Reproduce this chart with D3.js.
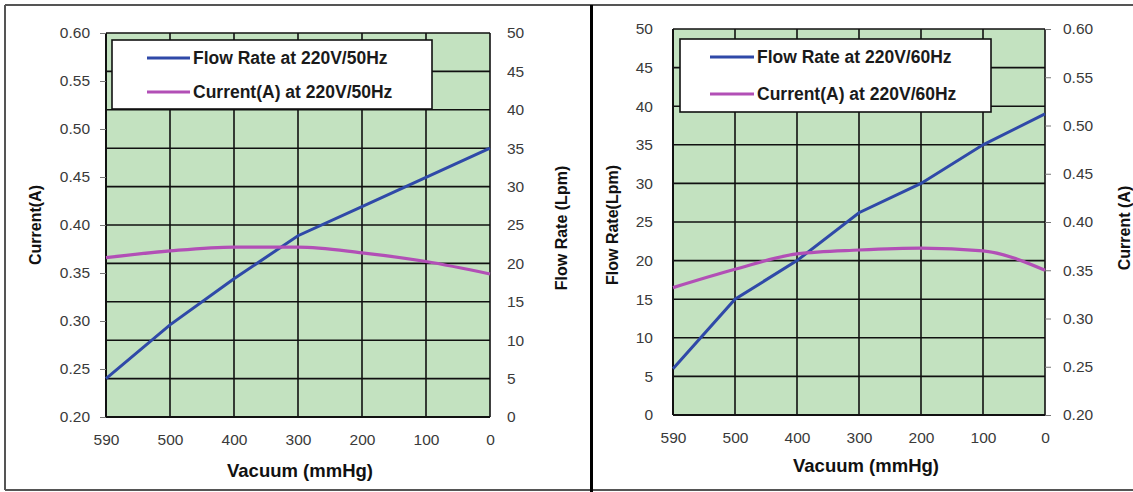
<!DOCTYPE html>
<html><head><meta charset="utf-8">
<script src="https://cdn.jsdelivr.net/npm/d3@7"></script>
<style>
html,body{margin:0;padding:0;background:#fff;}
svg{display:block;font-family:Arial,"Liberation Sans",sans-serif;}
</style></head>
<body>
<svg id="c" width="1133" height="492"></svg>
<script>
// ---- data ----
const vacuum = ["590","500","400","300","200","100","0"];
const flow50 = [5, 12, 18, 23.6, 27.4, 31.2, 35];
const current50 = [0.366, 0.373, 0.377, 0.377, 0.371, 0.362, 0.349];
const flow60 = [6, 15, 20, 26.2, 30, 35, 39];
const current60 = [0.332, 0.351, 0.367, 0.371, 0.373, 0.370, 0.350];
const currentTicks = [0.20,0.25,0.30,0.35,0.40,0.45,0.50,0.55,0.60];
const flowTicks = [0,5,10,15,20,25,30,35,40,45,50];
const legend50 = ["Flow Rate at 220V/50Hz","Current(A) at 220V/50Hz"];
const legend60 = ["Flow Rate at 220V/60Hz","Current(A) at 220V/60Hz"];

const BLUE = "#2f49a8", PINK = "#b24fb6", GREEN = "#c3e2c0";
const svg = d3.select("#c");

// outer frame
svg.append("line").attr("x1",5).attr("x2",1133).attr("y1",5).attr("y2",5).attr("stroke","#555").attr("stroke-width",2);
svg.append("line").attr("x1",5).attr("x2",5).attr("y1",5).attr("y2",490).attr("stroke","#555").attr("stroke-width",2);
svg.append("line").attr("x1",5).attr("x2",1133).attr("y1",490).attr("y2",490).attr("stroke","#555").attr("stroke-width",2);
svg.append("line").attr("x1",591.5).attr("x2",591.5).attr("y1",5).attr("y2",492).attr("stroke","#000").attr("stroke-width",3);

function chart(o){
  const g = svg.append("g");
  const x = d3.scalePoint().domain(vacuum).range([o.x0,o.x1]);
  const yF = d3.scaleLinear().domain([0,50]).range([o.y1,o.y0]);
  const yC = d3.scaleLinear().domain([0.2,0.6]).range([o.y1,o.y0]);
  g.append("rect").attr("x",o.x0).attr("y",o.y0).attr("width",o.x1-o.x0).attr("height",o.y1-o.y0).attr("fill",GREEN);
  // grid
  g.selectAll(".hg").data(flowTicks).enter().append("line")
    .attr("x1",o.x0).attr("x2",o.x1).attr("y1",d=>yF(d)).attr("y2",d=>yF(d))
    .attr("stroke","#111").attr("stroke-width",1.6);
  g.selectAll(".vg").data(vacuum).enter().append("line")
    .attr("x1",d=>x(d)).attr("x2",d=>x(d)).attr("y1",o.y0).attr("y2",o.y1)
    .attr("stroke","#111").attr("stroke-width",1.6);
  g.append("line").attr("x1",o.x0).attr("x2",o.x0).attr("y1",o.y0).attr("y2",o.y1).attr("stroke","#111").attr("stroke-width",2);
  g.append("line").attr("x1",o.x0).attr("x2",o.x1).attr("y1",o.y1).attr("y2",o.y1).attr("stroke","#111").attr("stroke-width",2);

  const styleAxis = (sel)=>{
    sel.select(".domain").remove();
    sel.selectAll("text").attr("fill","#3a3a3a").style("font-size","15.5px").style("font-family","Arial,'Liberation Sans',sans-serif");
    sel.selectAll("line").attr("stroke","#777");
  };
  // current axis (ticks outside)
  const cAxis = (o.currentSide==="left"?d3.axisLeft(yC):d3.axisRight(yC))
     .tickValues(currentTicks).tickFormat(d3.format(".2f")).tickSize(6).tickPadding(o.currentSide==="left"?10:12);
  g.append("g").attr("transform",`translate(${o.currentSide==="left"?o.x0:o.x1},0)`).call(cAxis).call(styleAxis);
  const fAxis = (o.currentSide==="left"?d3.axisRight(yF):d3.axisLeft(yF))
     .tickValues(flowTicks).tickFormat(d3.format("d")).tickSize(0).tickPadding(o.currentSide==="left"?17:20);
  g.append("g").attr("transform",`translate(${o.currentSide==="left"?o.x1:o.x0},0)`).call(fAxis).call(styleAxis);
  const xAxis = d3.axisBottom(x).tickSize(0).tickPadding(17);
  g.append("g").attr("transform",`translate(0,${o.y1})`).call(xAxis).call(styleAxis);

  // lines
  const lf = d3.line().x((d,i)=>x(vacuum[i])).y(d=>yF(d));
  const lc = d3.line().x((d,i)=>x(vacuum[i])).y(d=>yC(d)).curve(d3.curveMonotoneX);
  g.append("path").attr("d",lf(o.flow)).attr("fill","none").attr("stroke",BLUE).attr("stroke-width",3);
  g.append("path").attr("d",lc(o.current)).attr("fill","none").attr("stroke",PINK).attr("stroke-width",3.2);

  // legend
  const L = o.legend;
  g.append("rect").attr("x",L.x).attr("y",L.y).attr("width",L.w).attr("height",L.h).attr("fill","#fff").attr("stroke","#111").attr("stroke-width",1.6);
  [[BLUE,o.legendText[0],L.ly[0]],[PINK,o.legendText[1],L.ly[1]]].forEach(([c,t,yy])=>{
    g.append("line").attr("x1",L.lx0).attr("x2",L.lx1).attr("y1",yy).attr("y2",yy).attr("stroke",c).attr("stroke-width",3);
    g.append("text").attr("x",L.lx1+3).attr("y",yy).attr("dy","0.36em").text(t)
      .style("font-size","17.5px").style("font-weight","bold").attr("fill","#1a1a1a");
  });
  // titles
  o.titles.forEach(tt=>{
    const t = g.append("text").attr("text-anchor","middle").attr("fill","#111").style("font-weight","bold").style("font-size",tt.size+"px").text(tt.text);
    if(tt.rot) t.attr("transform",`translate(${tt.x},${tt.y}) rotate(-90)`).attr("dy","0.35em");
    else t.attr("x",tt.x).attr("y",tt.y).attr("dy","0.35em");
  });
}

chart({x0:106,x1:490,y0:33,y1:417,currentSide:"left",flow:flow50,current:current50,
  legend:{x:112,y:40,w:320,h:69,lx0:147,lx1:190,ly:[58,92]},legendText:legend50,
  titles:[{text:"Current(A)",x:35,y:225,rot:true,size:16},{text:"Flow Rate (Lpm)",x:561,y:228,rot:true,size:16},{text:"Vacuum (mmHg)",x:300,y:471,size:18.5}]});
chart({x0:673,x1:1045,y0:29,y1:415,currentSide:"right",flow:flow60,current:current60,
  legend:{x:680,y:39,w:311,h:73,lx0:710,lx1:754,ly:[57,94]},legendText:legend60,
  titles:[{text:"Flow Rate(Lpm)",x:612,y:225,rot:true,size:16},{text:"Current (A)",x:1124,y:228,rot:true,size:16},{text:"Vacuum (mmHg)",x:866,y:466,size:18.5}]});
</script>
</body></html>
